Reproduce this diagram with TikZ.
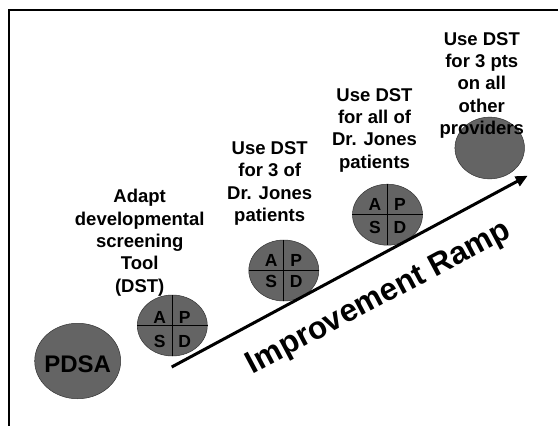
\documentclass[tikz,border=0pt]{standalone}
\usepackage{fontspec}
\setmainfont{Liberation Sans}
\usetikzlibrary{shapes.geometric,arrows.meta}
\definecolor{disc}{RGB}{100,100,100}
\tikzset{
  lbl/.style={align=center,anchor=north,font=\bfseries\fontsize{18.5}{22.3}\selectfont,inner sep=0pt},
  quad/.style={font=\bfseries\fontsize{17.5}{17.5}\selectfont,inner sep=0pt},
  discshape/.style={ellipse,draw=black!80,line width=0.5pt,fill=disc,inner sep=0pt},
  frame/.style={line width=2pt,black}
}
% #1 name, #2 x, #3 y, #4 A/P offset up, #5 S/D offset down
\newcommand{\apsd}[5]{%
  \node[discshape,minimum width=70pt,minimum height=61pt] (#1) at (#2,#3) {};
  \draw[line width=0.7pt] (#1.north) -- (#1.south);
  \draw[line width=0.7pt] (#1.west) -- (#1.east);
  \node[quad] (#1A) at ([shift={(-12.5pt,#4pt)}]#1.center) {A};
  \node[quad] (#1P) at ([shift={(12.5pt,#4pt)}]#1.center) {P};
  \node[quad] (#1S) at ([shift={(-12.5pt,-#5pt)}]#1.center) {S};
  \node[quad] (#1D) at ([shift={(12.5pt,-#5pt)}]#1.center) {D};
}
\begin{document}
\begin{tikzpicture}[x=1pt,y=-1pt]
\useasboundingbox (0,0) rectangle (558,426);
\fill[white] (0,0) rectangle (558,426);
\draw[frame] (9,426) -- (9,10) -- (558,10);
% PDSA
\node[discshape,minimum width=86pt,minimum height=75.5pt] (pdsa) at (77.7,361) {};
\node[font=\bfseries\fontsize{24}{24}\selectfont,inner sep=0pt] (pdsat) at (77.7,364.3) {PDSA};
% quartered discs
\apsd{c1}{172.3}{325.5}{8}{16}
\apsd{c2}{283.8}{270.5}{10.2}{11}
\apsd{c3}{387.5}{214.7}{10.2}{12.5}
\node[discshape,minimum width=69.5pt,minimum height=61.7pt] (c4) at (489.7,148) {};
% labels
\node[lbl] (l1) at (139.7,189.3) {Adapt\\developmental\\screening\\Tool\\(DST)};
\node[lbl] (l2) at (269.7,141.5) {Use DST\\for 3 of\\Dr. Jones\\patients};
\node[lbl] (l3) at (374.5,88) {Use DST\\for all of\\Dr. Jones\\patients};
\node[lbl] (l4) at (481.8,32) {Use DST\\for 3 pts\\on all\\other\\providers};
% ramp
\coordinate (rs) at (171.7,367);
\coordinate (re) at (527.7,175.7);
\draw[line width=3pt,-{Triangle[length=12pt,width=10.5pt]}] (rs) -- (re);
\node[font=\bfseries\fontsize{31.5}{31.5}\selectfont,rotate=28,inner sep=0pt] (ramp) at (379,298.5) {Improvement Ramp};
\end{tikzpicture}
\end{document}
